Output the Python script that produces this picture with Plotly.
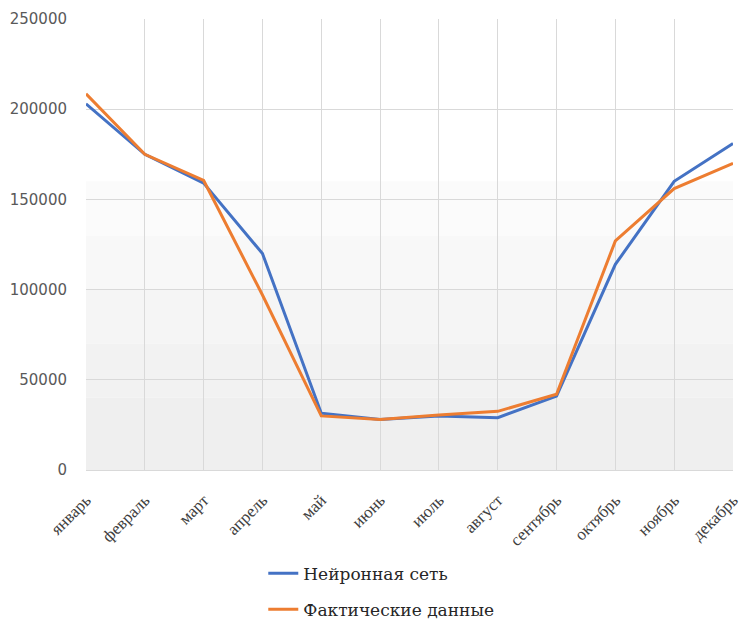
import plotly.graph_objects as go

months = ["январь", "февраль", "март", "апрель", "май", "июнь",
          "июль", "август", "сентябрь", "октябрь", "ноябрь", "декабрь"]
neural_net = [203000, 175000, 159000, 120000, 31500, 28000,
              30000, 29000, 41000, 114000, 160000, 181000]
actual = [208500, 175000, 160500, 97000, 30000, 28000,
          30500, 32500, 42000, 127000, 156000, 170000]
y_ticks = [0, 50000, 100000, 150000, 200000, 250000]

SERIF = "Liberation Serif"

fig = go.Figure()
fig.add_trace(go.Scatter(x=months, y=neural_net, mode="lines", name="Нейронная сеть",
                         line=dict(color="#4472C4", width=3), legendgroup="a"))
fig.add_trace(go.Scatter(x=months, y=actual, mode="lines", name="Фактические данные",
                         line=dict(color="#ED7D31", width=3), legendgroup="b"))

# faint grey haze in the lower part of the plotting area
for y0, y1, col in [(0, 40000, "#efefef"), (40000, 70000, "#f2f2f2"),
                    (70000, 100000, "#f5f5f5"), (100000, 130000, "#f8f8f8"),
                    (130000, 160000, "#fbfbfb")]:
    fig.add_shape(type="rect", xref="paper", yref="y", x0=0, x1=1, y0=y0, y1=y1,
                  fillcolor=col, line_width=0, layer="below")

fig.update_layout(
    width=740, height=624,
    font=dict(family=SERIF, color="#262626"),
    margin=dict(l=86, r=7, t=19, b=154, autoexpand=False),
    paper_bgcolor="white", plot_bgcolor="white",
    showlegend=True,
    legend=dict(x=0.274, y=-0.19, xanchor="left", yanchor="top",
                orientation="v", tracegroupgap=11,
                font=dict(family="DejaVu Serif", size=17, color="#262626"),
                bgcolor="rgba(0,0,0,0)"),
    xaxis=dict(range=[0, 11], showgrid=True, gridcolor="#d9d9d9", gridwidth=1,
               tickangle=-45, ticklabelstandoff=16, zeroline=False,
               showline=False, automargin=False,
               tickfont=dict(family=SERIF, size=17, color="#404040")),
    yaxis=dict(range=[0, 250000], tickvals=y_ticks, ticktext=[str(v) for v in y_ticks],
               showgrid=True, gridcolor="#d9d9d9", gridwidth=1, zeroline=True,
               zerolinecolor="#d9d9d9", zerolinewidth=1, ticklabelstandoff=18,
               automargin=False,
               tickfont=dict(family="DejaVu Sans", size=15, color="#595959")),
)

fig.write_html("out.html")
